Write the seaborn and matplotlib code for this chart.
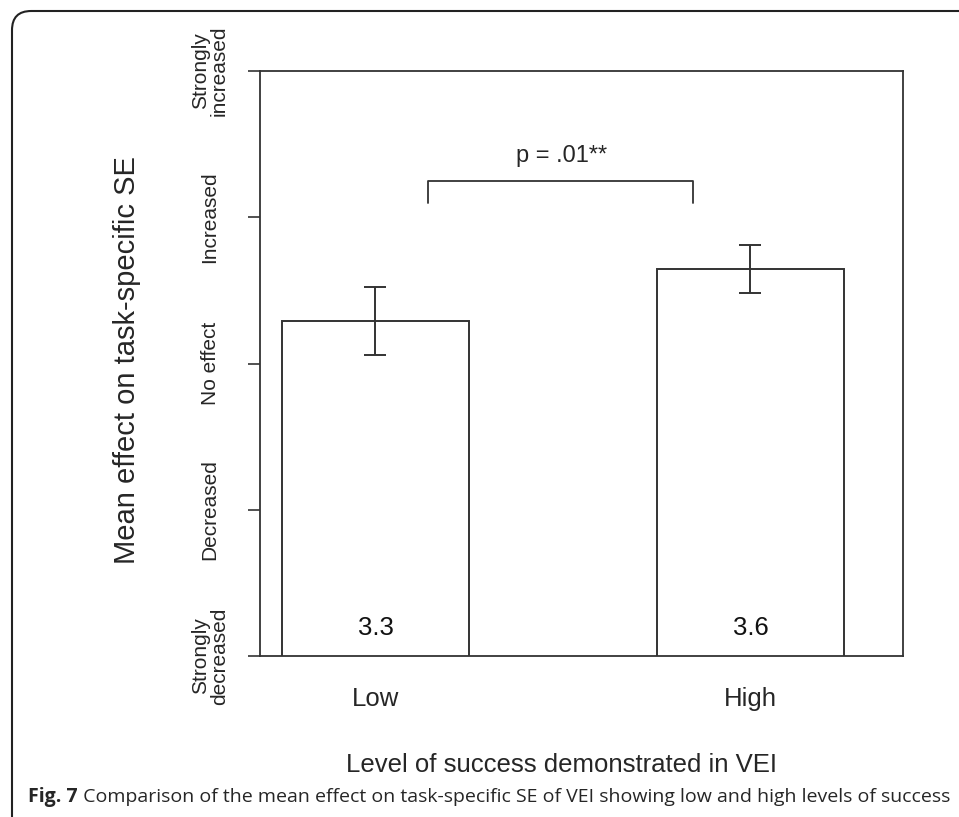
import matplotlib
matplotlib.use("Agg")
import matplotlib.pyplot as plt
import seaborn as sns
import pandas as pd
from matplotlib.patches import FancyBboxPatch

# Data
categories = ["Low", "High"]
means = [3.29, 3.645]
se = [0.23, 0.165]
bar_labels = ["3.3", "3.6"]
ytick_values = [1, 2, 3, 4, 5]
ytick_labels = ["Strongly\ndecreased", "Decreased", "No effect", "Increased", "Strongly\nincreased"]
p_text = "p = .01**"
xlabel = "Level of success demonstrated in VEI"
ylabel = "Mean effect on task-specific SE"
caption_bold = "Fig. 7"
caption_rest = " Comparison of the mean effect on task-specific SE of VEI showing low and high levels of success"

sns.set_theme(style="white")
plt.rcParams['font.family'] = ['Liberation Sans', 'DejaVu Sans']

df = pd.DataFrame({"level": categories, "mean": means})

fig = plt.figure(figsize=(9.59, 8.17), dpi=100)
ax = fig.add_axes([260/959, 1-656/817, (903-260)/959, (656-71)/817])

sns.barplot(data=df, x="level", y="mean", order=categories, ax=ax,
            color="white", edgecolor="#333333", linewidth=1.4, width=0.5,
            errorbar=None, saturation=1)
ax.errorbar(x=[0, 1], y=means, yerr=se, fmt="none", ecolor="#333333",
            elinewidth=1.4, capsize=8, capthick=1.4)

ax.set_ylim(1, 5)
ax.set_xlim(-0.308, 1.407)
ax.set_yticks(ytick_values)
ax.set_yticklabels(ytick_labels, rotation=90, va="center", ha="center",
                   fontsize=15, linespacing=0.95)
ax.tick_params(axis="y", which="both", left=True, length=9, width=1.2,
               color="#333333", pad=27)
ax.tick_params(axis="x", which="both", bottom=False, labelsize=18.5, pad=16)
ax.set_xlabel(xlabel, fontsize=18.5)
ax.xaxis.label.set_va("center")
ax.xaxis.set_label_coords((562-260)/643, (656-765)/585)
ax.set_ylabel(ylabel, fontsize=21)
ax.yaxis.label.set_va("center")
ax.yaxis.set_label_coords((127-260)/643, (656-360)/585)
for s in ax.spines.values():
    s.set_color("#333333")
    s.set_linewidth(1.3)

for i, t in enumerate(bar_labels):
    ax.text(i, 1.19, t, ha="center", va="center", fontsize=18.5, color="#111111")

# significance bracket
yb = 1 + (656-181)/146.25
yl = 1 + (656-203)/146.25
ax.plot([0.14, 0.14, 0.847, 0.847], [yl, yb, yb, yl], color="#333333", lw=1.3, clip_on=False)
ax.text(0.495, 1 + (656-156)/146.25, p_text, ha="center", va="center", fontsize=17)

# figure frame (rounded, open to right/bottom)
frame = FancyBboxPatch((12/959, -0.2), 1.2, (817-11)/817 + 0.2, transform=fig.transFigure,
                       boxstyle="round,pad=0,rounding_size=0.02", fill=False,
                       edgecolor="#222222", linewidth=1.5, mutation_aspect=959/817)
fig.patches.append(frame)

cap_fam = ["Open Sans", "DejaVu Sans"]
t1 = fig.text(28/959, 1-797/817, caption_bold, fontsize=14, fontweight="bold",
              ha="left", va="center", family=cap_fam)
fig.canvas.draw()
bb = t1.get_window_extent()
fig.text(bb.x1/959, 1-797/817, caption_rest, fontsize=14, ha="left", va="center",
         family=cap_fam)

fig.savefig("out.png", dpi=100)
